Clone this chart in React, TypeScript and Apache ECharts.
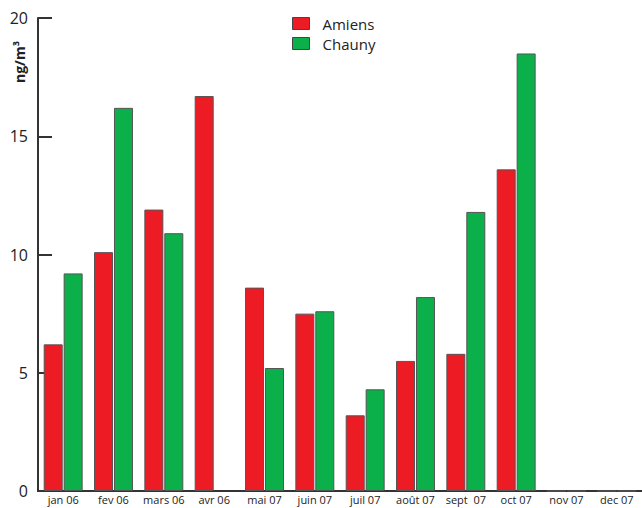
import React, { useEffect, useRef } from "react";
import * as echarts from "echarts";

const categories = ["jan 06", "fev 06", "mars 06", "avr 06", "mai 07", "juin 07", "juil 07", "août 07", "sept  07", "oct 07", "nov 07", "dec 07"];
const amiens = [6.2, 10.1, 11.9, 16.7, 8.6, 7.5, 3.2, 5.5, 5.8, 13.6, 0, 0];
const chauny = [9.2, 16.2, 10.9, null, 5.2, 7.6, 4.3, 8.2, 11.8, 18.5, 0, 0];
const yTicks = [0, 5, 10, 15, 20];

const FONT = "'Open Sans', sans-serif";

export default function App() {
  const ref = useRef<HTMLDivElement>(null);
  useEffect(() => {
    document.body.style.margin = "0";
    const chart = echarts.init(ref.current!, null, { renderer: "svg" });
    chart.setOption({
      animation: false,
      backgroundColor: "#ffffff",
      grid: { left: 38, right: 0, top: 18, bottom: 17, containLabel: false },
      legend: {
        orient: "vertical",
        left: 287,
        top: 11,
        icon: "rect",
        itemWidth: 17,
        itemHeight: 12,
        itemGap: 5,
        data: ["Amiens", "Chauny"],
        textStyle: { fontFamily: FONT, fontSize: 15, lineHeight: 15, color: "#222", padding: [0, 0, 0, 8] },
        itemStyle: { borderColor: "#444", borderWidth: 1 },
      },
      graphic: [
        {
          type: "text",
          x: 12,
          y: 83,
          rotation: Math.PI / 2,
          style: { text: "ng/m³", fontFamily: FONT, fontSize: 14, fontWeight: "bold", fill: "#222" },
        },
      ],
      xAxis: {
        type: "category",
        data: categories,
        axisLine: { lineStyle: { color: "#333", width: 2 } },
        axisTick: { inside: true, length: 10, lineStyle: { color: "#333", width: 2 } },
        axisLabel: { fontFamily: FONT, fontSize: 11, color: "#222", margin: 3, interval: 0 },
      },
      yAxis: {
        type: "value",
        min: yTicks[0],
        max: yTicks[yTicks.length - 1],
        interval: 5,
        splitLine: { show: false },
        axisLine: { show: true, lineStyle: { color: "#333", width: 2 } },
        axisTick: { show: true, inside: true, length: 14, lineStyle: { color: "#333", width: 2 } },
        axisLabel: { fontFamily: FONT, fontSize: 16, color: "#222", margin: 10 },
      },
      series: [
        {
          name: "Amiens",
          type: "bar",
          data: amiens,
          barWidth: 19,
          barGap: "5%",
          itemStyle: { color: "#ed1c24", borderColor: "#555", borderWidth: 1 },
        },
        {
          name: "Chauny",
          type: "bar",
          data: chauny,
          barWidth: 19,
          itemStyle: { color: "#0cb04a", borderColor: "#555", borderWidth: 1 },
        },
      ],
    });
    return () => chart.dispose();
  }, []);
  return <div ref={ref} style={{ width: 642, height: 508 }} />;
}
